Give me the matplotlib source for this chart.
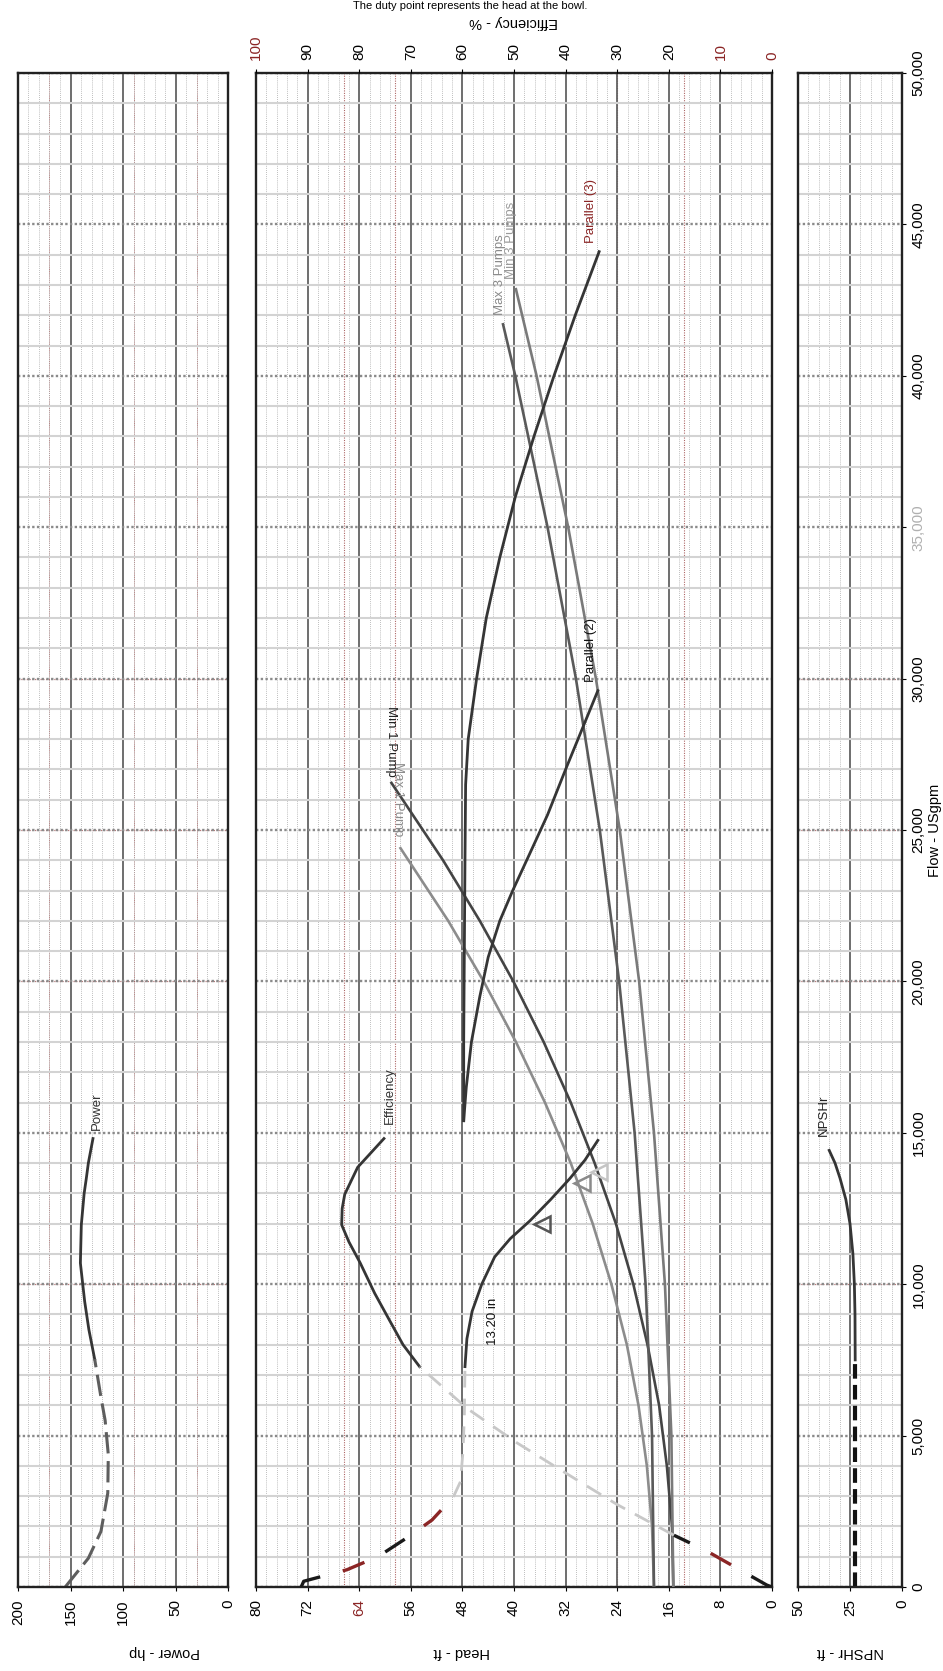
import matplotlib
matplotlib.use('Agg')
from matplotlib import pyplot as plt
from matplotlib.ticker import MultipleLocator

plt.rcParams['font.family'] = ['Liberation Sans', 'DejaVu Sans']

# axis ticks
flow_ticks = [0, 5000, 10000, 15000, 20000, 25000, 30000, 35000, 40000, 45000, 50000]
flow_labels = ['0', '5,000', '10,000', '15,000', '20,000', '25,000', '30,000',
               '35,000', '40,000', '45,000', '50,000']
head_ticks = [80, 72, 64, 56, 48, 40, 32, 24, 16, 8, 0]
eff_ticks = [100, 90, 80, 70, 60, 50, 40, 30, 20, 10, 0]
power_ticks = [200, 150, 100, 50, 0]
npsh_ticks = [50, 25, 0]

# single pump head curve 13.20 in (flow USgpm, head ft)
head_dash_flow = [0, 190, 570, 1013, 1709, 2215, 2975, 3480, 4500, 5630, 7278]
head_dash_head = [73.0, 72.6, 65.9, 61.0, 56.0, 52.7, 49.4, 48.3, 47.9, 47.7, 47.6]
head_flow = [7278, 8200, 9100, 10000, 10900, 11500, 12100, 12800, 13500, 14100, 14750]
head_head = [47.6, 47.3, 46.5, 45.0, 43.0, 40.6, 37.5, 34.3, 31.3, 29.0, 27.0]

# efficiency %
eff_dash_flow = [0, 63, 1203, 1709, 2722, 3734, 4747, 5886, 7278]
eff_dash_val = [0, 1.0, 12.8, 19.0, 30.0, 39.7, 49.3, 59.0, 68.3]
eff_flow = [7278, 8000, 8800, 9700, 10700, 11400, 11960, 12500, 12970, 13860, 14810]
eff_val = [68.3, 71.5, 74.1, 77.0, 79.8, 82.0, 83.4, 83.3, 82.8, 80.3, 75.2]

# power hp
power_dash_flow = [0, 950, 1835, 3100, 4370, 5500, 6270, 7530]
power_dash_val = [155, 133, 121, 114.5, 114, 117, 121, 127]
power_flow = [7530, 8500, 9430, 10700, 11960, 13000, 13480, 14000, 14810]
power_val = [127, 132.5, 136.5, 140.6, 139.7, 137, 135, 133, 128.6]

# NPSHr ft
npsh_dash_flow = [0, 7500]
npsh_dash_val = [22.5, 22.5]
npsh_flow = [7500, 9000, 10000, 11000, 12000, 12800, 13500, 14000, 14420]
npsh_val = [22.5, 22.6, 22.9, 23.6, 25.0, 27.0, 29.8, 32.2, 35.0]

# parallel pump curves
par2_flow = [15400, 16500, 18000, 19500, 20800, 22000, 23000, 24200, 25500, 27000, 28300, 29600]
par2_head = [47.8, 47.4, 46.6, 45.3, 44.0, 42.2, 40.2, 37.6, 34.8, 32.0, 29.5, 27.0]
par3_flow = [15400, 18000, 21000, 24000, 26500, 28000, 30000, 32000, 34000, 36000, 38000, 40000, 42000, 44100]
par3_head = [47.8, 47.8, 47.7, 47.6, 47.5, 47.1, 45.8, 44.3, 42.2, 39.8, 36.9, 33.8, 30.5, 26.8]

# system curves
min1_flow = [0, 2000, 4000, 6000, 8000, 10000, 12000, 14000, 16000, 18000, 20000, 22000, 24000, 26555]
min1_head = [15.3, 15.5, 16.3, 17.5, 19.3, 21.5, 24.2, 27.5, 31.2, 35.4, 40.1, 45.3, 51.0, 59.0]
max1_flow = [0, 2000, 4000, 6000, 8000, 10000, 12000, 14000, 16000, 18000, 20000, 22000, 24400]
max1_head = [18.3, 18.6, 19.4, 20.7, 22.5, 24.9, 27.8, 31.2, 35.2, 39.7, 44.7, 50.2, 57.6]
min3_flow = [0, 5000, 10000, 15000, 20000, 25000, 30000, 35000, 40000, 42860]
min3_head = [15.3, 15.6, 16.6, 18.3, 20.6, 23.6, 27.3, 31.6, 36.5, 39.7]
max3_flow = [0, 5000, 10000, 15000, 20000, 25000, 30000, 35000, 40000, 41700]
max3_head = [18.3, 18.6, 19.6, 21.3, 23.7, 26.7, 30.4, 34.8, 39.8, 41.7]

# duty points (head ft, flow USgpm)
duty_head = [35.6, 29.4, 26.8]
duty_flow = [12000, 13350, 13700]
duty_colors = ['#555555', '#8a8a8a', '#c4c4c4']

DARK = '#353535'
RED = '#8b2525'

fig = plt.figure(figsize=(9.43, 16.71), dpi=100)
bot = 84 / 1671
hgt = 1514 / 1671
ax_p = fig.add_axes([18 / 943, bot, 210 / 943, hgt])
ax_h = fig.add_axes([256 / 943, bot, 516 / 943, hgt])
ax_n = fig.add_axes([798 / 943, bot, 104 / 943, hgt])


def setup(ax, xlim, ticks, major, minor):
    ax.set_xlim(*xlim)
    ax.set_ylim(0, 50000)
    ax.xaxis.set_major_locator(MultipleLocator(major))
    ax.xaxis.set_minor_locator(MultipleLocator(minor))
    ax.set_xticks(ticks)
    ax.yaxis.set_major_locator(MultipleLocator(5000))
    ax.yaxis.set_minor_locator(MultipleLocator(1000))
    ax.grid(which='minor', axis='x', color='#a9a9a9', lw=0.6, ls=(0, (1, 1.5)))
    ax.grid(which='major', axis='x', color='#626262', lw=1.3)
    ax.grid(which='minor', axis='y', color='#d3d3d3', lw=1.5)
    ax.grid(which='major', axis='y', color='#8a8a8a', lw=1.7, ls=(0, (1, 1)))
    ax.set_axisbelow(True)
    ax.tick_params(which='minor', length=0)
    ax.tick_params(axis='x', which='major', length=3, labelsize=11, labelrotation=90, pad=6)
    ax.set_yticklabels([])
    ax.tick_params(axis='y', which='major', length=0)
    for s in ax.spines.values():
        s.set_linewidth(1.7)
        s.set_color('#222222')


setup(ax_p, (200, 0), power_ticks, 50, 10)
setup(ax_h, (80, 0), head_ticks, 8, 1.6)
setup(ax_n, (50, 0), npsh_ticks, 25, 5)

# reddish scan lines
for hv in [66.4, 58.4, 24.0, 13.6]:
    ax_h.axvline(hv, color=RED, lw=0.8, ls=(0, (1, 1.2)), alpha=0.7, zorder=0.5)
for fv in [10000, 20000, 25000, 30000]:
    for ax in (ax_p, ax_n):
        ax.axhline(fv, color=RED, lw=0.9, ls=(0, (1, 1.2)), alpha=0.6, zorder=0.5)
for pv in [170, 90, 30]:
    ax_p.axvline(pv, color=RED, lw=0.7, ls=(0, (1, 1.2)), alpha=0.6, zorder=0.5)

# flow ticks on the right of NPSH panel
ax_n.yaxis.tick_right()
ax_n.set_yticks(flow_ticks)
ax_n.set_yticklabels(flow_labels)
ax_n.tick_params(axis='y', which='major', length=3, labelsize=11, labelrotation=90, pad=4)
for t in ax_n.get_yticklabels():
    t.set_va('center')
    if t.get_text() == '35,000':
        t.set_color('#b0b0b0')

for t in ax_h.get_xticklabels():
    if t.get_text() == '64':
        t.set_color(RED)

# efficiency axis on top of head panel
ax_e = ax_h.twiny()
ax_e.set_xlim(100, 0)
ax_e.set_xticks(eff_ticks)
ax_e.tick_params(axis='x', length=3, labelsize=11, labelrotation=90, pad=6)
for t in ax_e.get_xticklabels():
    if t.get_text() in ('100', '10', '0'):
        t.set_color(RED)
for s in ax_e.spines.values():
    s.set_visible(False)

# system curves
ax_h.plot(max1_head, max1_flow, color='#8c8c8c', lw=1.9, zorder=3)
ax_h.plot(min1_head, min1_flow, color='#444444', lw=1.9, zorder=3)
ax_h.plot(max3_head, max3_flow, color='#5a5a5a', lw=1.9, zorder=3)
ax_h.plot(min3_head, min3_flow, color='#7a7a7a', lw=1.9, zorder=3)

# parallel pump curves
ax_h.plot(par2_head, par2_flow, color=DARK, lw=2.0, zorder=4)
ax_h.plot(par3_head, par3_flow, color=DARK, lw=2.0, zorder=4)

# single pump head curve
ax_h.plot(head_head, head_flow, color=DARK, lw=2.0, zorder=4)
ax_h.plot(head_dash_head[6:], head_dash_flow[6:], color='#c8c8c8', lw=2.0, ls=(0, (6, 4)), zorder=4)
ax_h.plot(head_dash_head[:7], head_dash_flow[:7], color='#1a1a1a', lw=2.4, ls=(0, (7, 21)), zorder=4)
ax_h.plot(head_dash_head[:7], head_dash_flow[:7], color=RED, lw=2.4, ls=(14, (7, 21)), zorder=4)

# efficiency curve
ax_e.plot(eff_val, eff_flow, color=DARK, lw=2.0, zorder=4)
ax_e.plot(eff_dash_val[3:], eff_dash_flow[3:], color='#c8c8c8', lw=2.0, ls=(0, (6, 4)), zorder=4)
ax_e.plot(eff_dash_val[:4], eff_dash_flow[:4], color='#1a1a1a', lw=2.4, ls=(0, (7, 21)), zorder=4)
ax_e.plot(eff_dash_val[:4], eff_dash_flow[:4], color=RED, lw=2.4, ls=(14, (7, 21)), zorder=4)

# duty points
for dh, dfl, dc in zip(duty_head, duty_flow, duty_colors):
    ax_h.plot([dh], [dfl], marker='<', ms=12, mfc='none', mec=dc, mew=1.8, zorder=5)

# power
ax_p.plot(power_val, power_flow, color=DARK, lw=2.0)
ax_p.plot(power_dash_val, power_dash_flow, color='#5e5e5e', lw=2.2, ls=(0, (7, 2.5)))

# NPSHr
ax_n.plot(npsh_val, npsh_flow, color=DARK, lw=2.0)
ax_n.plot(npsh_dash_val, npsh_dash_flow, color='#111111', lw=3.0, ls=(0, (3.5, 1.5)))

# curve labels
lab = dict(rotation=90, rotation_mode='anchor', ha='left', va='center', fontsize=9.5)
ax_p.text(125, 15100, 'Power', color='#333333', **lab)
ax_e.text(74, 15300, 'Efficiency', color='#333333', **lab)
ax_n.text(37.5, 14900, 'NPSHr', color='#222222', **lab)
ax_h.text(43.3, 8000, '13.20 in', color='#111111', **lab)
ax_h.text(28.0, 29900, 'Parallel (2)', color='#111111', **lab)
ax_h.text(28.0, 44400, 'Parallel (3)', color=RED, **lab)
ax_h.text(42.2, 42000, 'Max 3 Pumps', color='#8a8a8a', **lab)
ax_h.text(40.4, 43200, 'Min 3 Pumps', color='#9a9a9a', **lab)
lab2 = dict(rotation=270, rotation_mode='anchor', ha='right', va='center', fontsize=9.5)
ax_h.text(59.0, 26750, 'Min 1 Pump', color='#222222', **lab2)
ax_h.text(58.0, 24800, 'Max 1 Pump', color='#8c8c8c', **lab2)

# axis titles
fig.text(165 / 943, 1 - 1652 / 1671, 'Power - hp', rotation=180, ha='center', va='center', fontsize=10.5)
fig.text(462 / 943, 1 - 1652 / 1671, 'Head - ft', rotation=180, ha='center', va='center', fontsize=10.5)
fig.text(850 / 943, 1 - 1652 / 1671, 'NPSHr - ft', rotation=180, ha='center', va='center', fontsize=10.5)
fig.text(514 / 943, 1 - 22 / 1671, 'Efficiency - %', rotation=180, ha='center', va='center', fontsize=10.5)
fig.text(935 / 943, 1 - 830 / 1671, 'Flow - USgpm', rotation=90, ha='center', va='center', fontsize=10.5)
fig.text(470 / 943, 1 - 1 / 1671, 'The duty point represents the head at the bowl.',
         ha='center', va='top', fontsize=8)

fig.savefig('out.png', dpi=100, facecolor='white')
